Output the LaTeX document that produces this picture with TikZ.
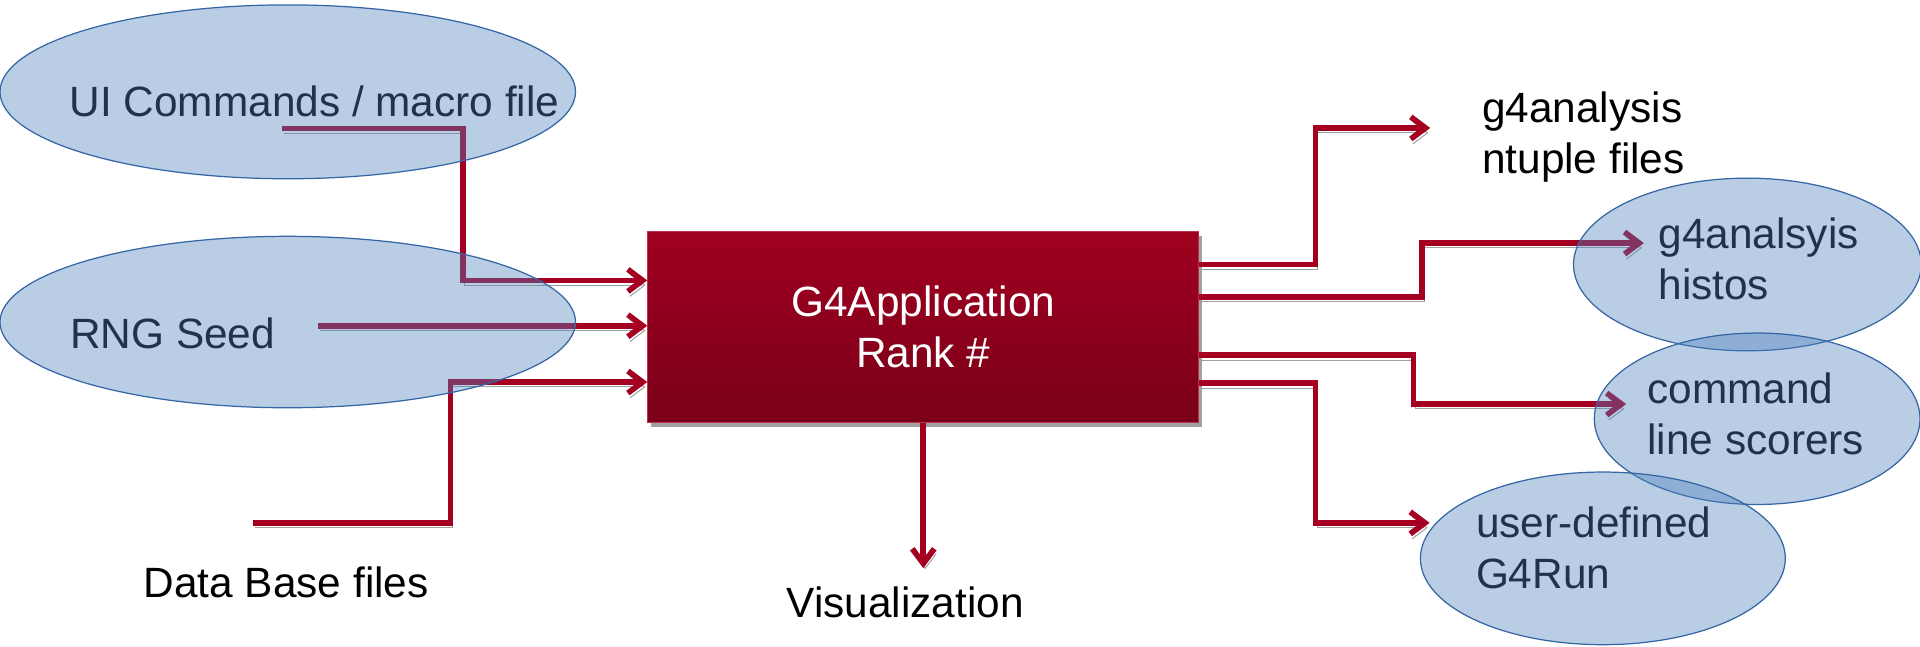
\documentclass[tikz,border=0pt]{standalone}
\usepackage{fontspec}
\setmainfont{Liberation Sans}
\usetikzlibrary{arrows.meta,shapes.geometric}

\definecolor{linkred}{RGB}{165,0,33}
\definecolor{boxtop}{RGB}{160,0,32}
\definecolor{boxbot}{RGB}{122,0,24}
\definecolor{boxedge}{RGB}{185,50,80}
\definecolor{shadowgray}{RGB}{160,160,160}
\definecolor{bubblefill}{RGB}{79,129,189}
\definecolor{bubbleedge}{RGB}{52,101,164}

\newcommand{\lblsize}{\fontsize{17.3pt}{21pt}\selectfont}

\begin{document}
\begin{tikzpicture}[x=0.5pt,y=-0.5pt,
  appbox/.style={rectangle, minimum width=225pt, minimum height=78pt, inner sep=0pt,
    top color=boxtop, bottom color=boxbot, draw=boxedge, line width=0.4pt,
    text=white, align=center, font=\lblsize,
    preaction={fill=shadowgray, transform canvas={shift={(1.2pt,-1.8pt)}}}},
  link/.style={draw=linkred, line width=2.3pt, -{Straight Barb[length=6pt,width=9pt]},
    preaction={draw=shadowgray, -{Straight Barb[length=6pt,width=9pt]},
      transform canvas={shift={(0.8pt,-2pt)}}}},
  bubble/.style={ellipse, draw=bubbleedge, line width=0.5pt, fill=bubblefill,
    fill opacity=0.4, inner sep=0pt},
  lbl/.style={anchor=base west, inner sep=0pt, align=left, font=\lblsize}]
\useasboundingbox (0,0) rectangle (1568,528);

% the application block
\node[appbox] (app) at (754,267) {G4Application\\Rank \#};

% inputs
\coordinate (uiout) at (230,105);
\coordinate (rngout) at (260,266);
\coordinate (dbout) at (207,427);
\draw[link] (uiout) -- ++(148,0) |- ([yshift=19pt]app.west);
\draw[link] (rngout) -- (rngout -| app.west);
\draw[link] (dbout) -- ++(161,0) |- ([yshift=-22.5pt]app.west);

% outputs
\coordinate (vistip) at (754,464);
\coordinate (ntuplein) at (1168,104.5);
\coordinate (histoin) at (1342.5,198.5);
\coordinate (cmdin) at (1328,330);
\coordinate (userin) at (1167.5,427);
\draw[link] (app.south) -- (vistip);
\draw[link] ([yshift=25.5pt]app.east) -- ++(95,0) |- (ntuplein);
\draw[link] ([yshift=12.25pt]app.east) -- ++(182,0) |- (histoin);
\draw[link] ([yshift=-11.5pt]app.east) -- ++(175,0) |- (cmdin);
\draw[link] ([yshift=-23pt]app.east) -- ++(95,0) |- (userin);

% labels (two-line ones sit on their last line)
\node[lbl] (uitext) at (56.5,95.5) {UI Commands / macro file};
\node[lbl] (rngtext) at (57,285) {RNG Seed};
\node[lbl] (dbtext) at (117,488) {Data Base files};
\node[lbl] (vistext) at (642,504) {Visualization};
\node[lbl] (ntupletext) at (1210,142) {g4analysis\\ntuple files};
\node[lbl] (histotext) at (1354,245) {g4analsyis\\histos};
\node[lbl] (cmdtext) at (1345,371.5) {command\\line scorers};
\node[lbl] (usertext) at (1205,481) {user-defined\\G4Run};

% bubbles over the labels
\node[bubble, minimum width=235pt, minimum height=71pt] (ui) at (235,75) {};
\node[bubble, minimum width=235pt, minimum height=70pt] (rng) at (235,263) {};
\node[bubble, minimum width=142pt, minimum height=70.5pt] (histo) at (1427,216) {};
\node[bubble, minimum width=133pt, minimum height=70pt] (cmd) at (1435,342) {};
\node[bubble, minimum width=149pt, minimum height=70.5pt] (user) at (1309,456) {};
\end{tikzpicture}
\end{document}
